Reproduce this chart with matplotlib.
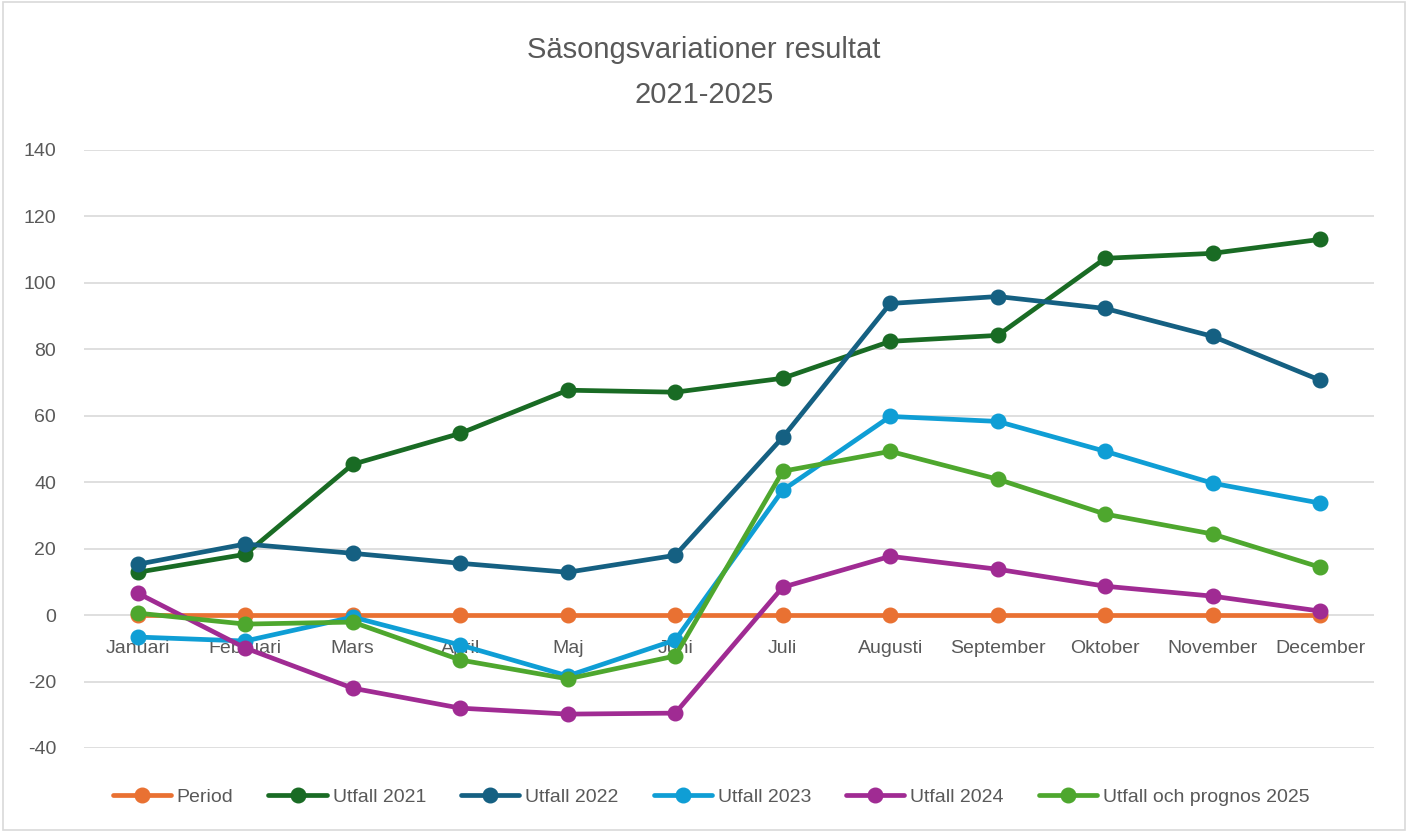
import matplotlib
matplotlib.use("Agg")
import matplotlib.pyplot as plt
from matplotlib.patches import Rectangle
from matplotlib import font_manager

fams = {f.name for f in font_manager.fontManager.ttflist}
FONT = "Liberation Sans Narrow" if "Liberation Sans Narrow" in fams else "Liberation Sans"
plt.rcParams['font.family'] = [FONT, 'DejaVu Sans']
plt.rcParams['axes.unicode_minus'] = False

months = ["Januari", "Februari", "Mars", "April", "Maj", "Juni", "Juli",
          "Augusti", "September", "Oktober", "November", "December"]
period = [0] * 12
utfall_2021 = [12.9, 18.3, 45.4, 54.7, 67.7, 67.1, 71.3, 82.4, 84.2, 107.4, 108.9, 113.1]
utfall_2022 = [15.3, 21.4, 18.6, 15.6, 12.9, 18.0, 53.5, 93.8, 95.9, 92.3, 83.9, 70.7]
utfall_2023 = [-6.6, -7.8, -0.6, -9.0, -18.3, -7.5, 37.6, 59.8, 58.3, 49.3, 39.7, 33.7]
utfall_2024 = [6.6, -9.9, -22.0, -28.0, -29.8, -29.5, 8.4, 17.7, 13.8, 8.7, 5.7, 1.2]
prognos_2025 = [0.6, -2.7, -2.1, -13.5, -19.2, -12.3, 43.3, 49.3, 40.9, 30.4, 24.4, 14.4]

series = [
    ("Period", period, "#E97132"),
    ("Utfall 2021", utfall_2021, "#196B24"),
    ("Utfall 2022", utfall_2022, "#156082"),
    ("Utfall 2023", utfall_2023, "#0F9ED5"),
    ("Utfall 2024", utfall_2024, "#A02B93"),
    ("Utfall och prognos 2025", prognos_2025, "#4EA72E"),
]

TXT = "#595959"
fig = plt.figure(figsize=(14.08, 8.32), dpi=100)
ax = fig.add_axes([84/1408, 1-748/832, (1374-84)/1408, (748-150)/832])

x = list(range(len(months)))
for name, vals, col in series:
    ax.plot(x, vals, color=col, lw=3.4, marker='o', ms=10.5, label=name,
            solid_capstyle='round', solid_joinstyle='round')

ax.set_xlim(-0.5, 11.5)
ax.set_ylim(-40, 140)
ax.set_yticks(range(-40, 141, 20))
ax.yaxis.grid(True, color="#D9D9D9", lw=1.2)
ax.set_axisbelow(True)
for s in ax.spines.values():
    s.set_visible(False)
ax.spines['bottom'].set_position(('data', 0))
ax.set_xticks(x)
ax.set_xticklabels(months)
ax.tick_params(axis='both', length=0, labelsize=14, labelcolor=TXT)
ax.tick_params(axis='x', pad=18)
ax.tick_params(axis='y', pad=20)

fig.text(0.5, 1-50/832, "Säsongsvariationer resultat", ha='center', va='center',
         fontsize=21, color=TXT)
fig.text(0.5, 1-95/832, "2021-2025", ha='center', va='center',
         fontsize=21, color=TXT)

fig.legend(loc='center', bbox_to_anchor=(0.505, 1-797/832), ncol=6, frameon=False,
           fontsize=14, labelcolor=TXT, handlelength=3.0, columnspacing=1.8,
           handletextpad=0.3)

fig.patches.append(Rectangle((0.002, 0.002), 0.996, 0.996, transform=fig.transFigure,
                             fill=False, edgecolor="#D9D9D9", lw=1.2))

fig.savefig("out.png", dpi=100)
